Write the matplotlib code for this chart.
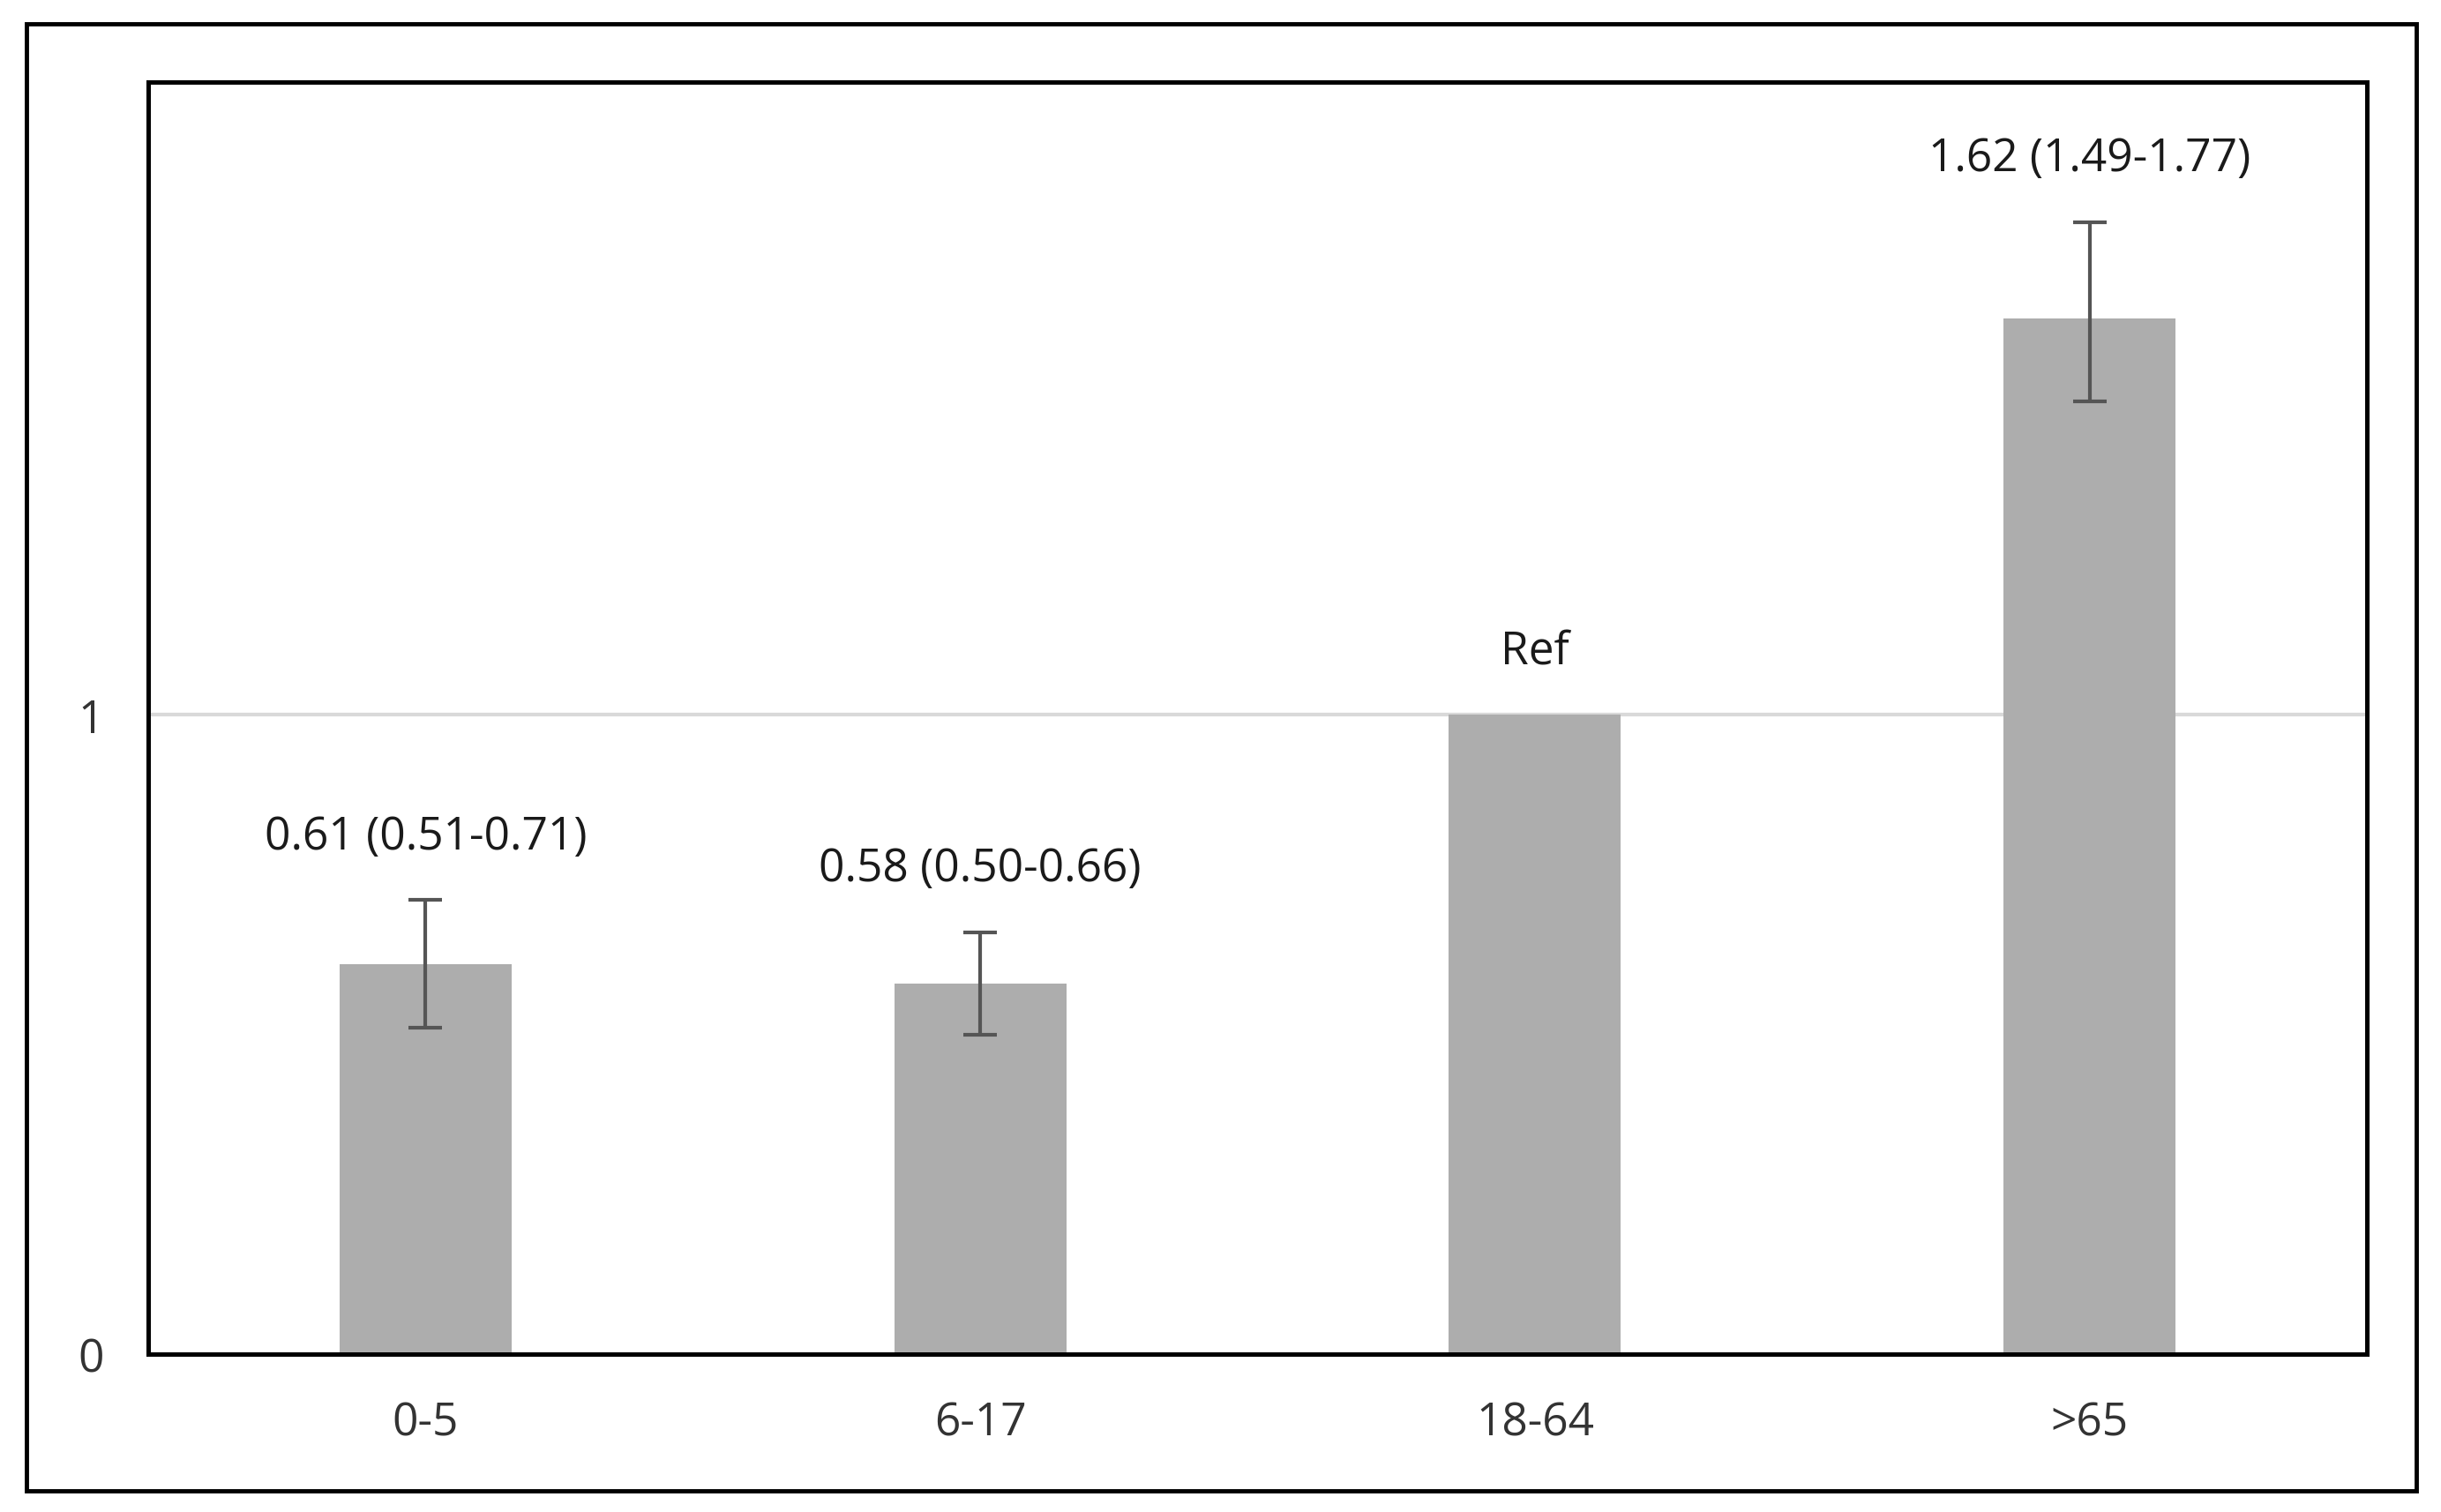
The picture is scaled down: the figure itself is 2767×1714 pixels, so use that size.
import matplotlib
matplotlib.use("Agg")
import matplotlib.pyplot as plt
from matplotlib.patches import Rectangle
import numpy as np

categories = ["0-5", "6-17", "18-64", ">65"]
values = [0.61, 0.58, 1.00, 1.62]
ci_low = [0.51, 0.50, np.nan, 1.49]
ci_high = [0.71, 0.66, np.nan, 1.77]
labels = ["0.61 (0.51-0.71)", "0.58 (0.50-0.66)", "Ref", "1.62 (1.49-1.77)"]
yticks = [0, 1]

plt.rcParams['font.family'] = ['Open Sans', 'DejaVu Sans']

fig = plt.figure(figsize=(27.67, 17.15), dpi=100)
ax = fig.add_axes([0.0607, 0.1044, 0.909, 0.8408])

x = np.arange(len(categories))
vals = np.array(values)
lo = np.array(ci_low)
hi = np.array(ci_high)

ax.axhline(1, color="#d9d9d9", lw=3, zorder=0)
ax.bar(x, vals, width=0.31, color="#adadad", zorder=2)

mask = ~np.isnan(lo)
yerr = np.vstack([vals[mask] - lo[mask], hi[mask] - vals[mask]])
ax.errorbar(x[mask], vals[mask], yerr=yerr, fmt="none", ecolor="#555555",
            elinewidth=3, capsize=14, capthick=3, zorder=3)

for i, lab in enumerate(labels):
    top = hi[i] if not np.isnan(hi[i]) else vals[i]
    ax.text(x[i], top + 0.10, lab, ha="center", va="center",
            fontsize=37, color="#1a1a1a")

ax.set_xlim(-0.5, len(categories) - 0.5)
ax.set_ylim(0, 1.99)
ax.set_xticks(x)
ax.set_xticklabels(categories)
ax.set_yticks(yticks)
ax.set_yticklabels([str(t) for t in yticks])
ax.tick_params(axis="both", length=0, labelsize=37, labelcolor="#333333")
ax.tick_params(axis="x", pad=38)
ax.tick_params(axis="y", pad=36)
for s in ax.spines.values():
    s.set_color("black")
    s.set_linewidth(3.6)

fig.patches.append(Rectangle((0.0108, 0.014), 0.9791, 0.9697, transform=fig.transFigure,
                             fill=False, edgecolor="black", linewidth=3.5))

fig.savefig("out.png", dpi=100, facecolor="white")
